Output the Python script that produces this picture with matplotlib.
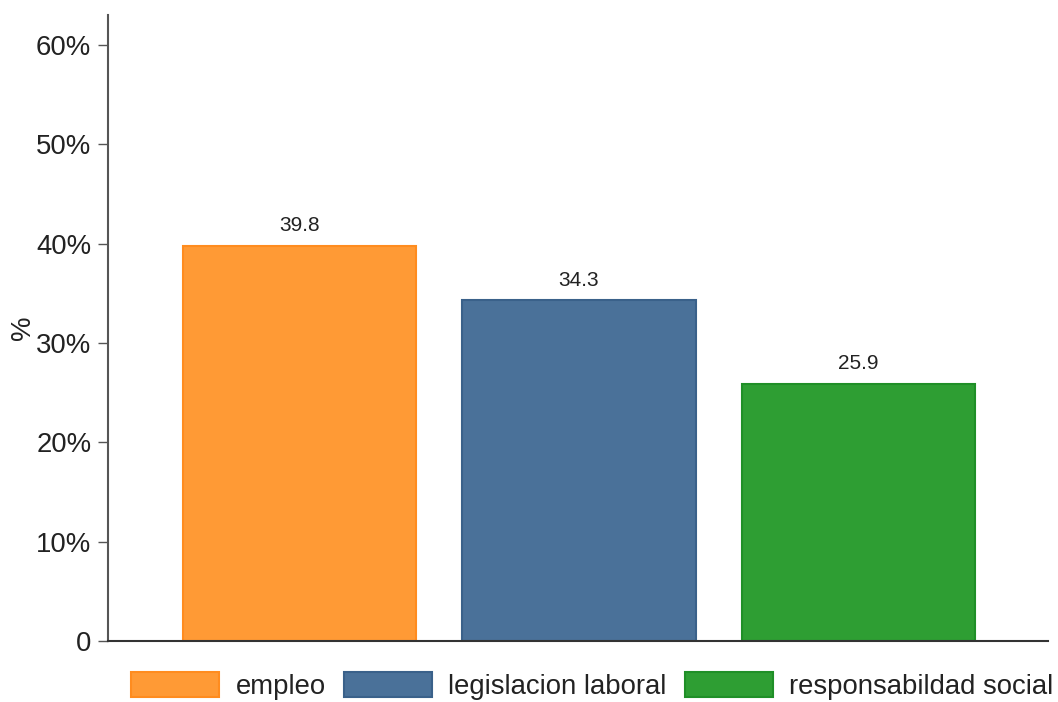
import matplotlib
matplotlib.use("Agg")
import matplotlib.pyplot as plt

categories = ["empleo", "legislacion laboral", "responsabildad social"]
values = [39.8, 34.3, 25.9]
yticks = [0, 10, 20, 30, 40, 50, 60]
ytick_labels = ["0", "10%", "20%", "30%", "40%", "50%", "60%"]

fill_colors = ["#FF9A35", "#4A7199", "#2E9E33"]
edge_colors = ["#FF8C1F", "#3A618A", "#1F8F27"]

plt.rcParams['font.family'] = ['Liberation Sans', 'DejaVu Sans']

fig = plt.figure(figsize=(10.58, 7.02), dpi=100)
ax = fig.add_axes([0.1021, 0.0869, 0.8884, 0.8917])

positions = [1, 2, 3]
bars = []
for p, v, c, ec, lab in zip(positions, values, fill_colors, edge_colors, categories):
    b = ax.bar(p, v, width=0.834, color=c, edgecolor=ec, linewidth=1.5, label=lab)
    bars.append(b)
    ax.annotate(f"{v:.1f}", xy=(p, v), xytext=(0, 14.4), textcoords="offset points",
                ha="center", va="center", fontsize=15, color="#222222")

ax.set_xlim(0.315, 3.678)
ax.set_ylim(0, 63)
ax.set_yticks(yticks)
ax.set_yticklabels(ytick_labels)
ax.set_xticks([])
ax.tick_params(axis="y", labelsize=19.8, length=7, width=1, color="#555555",
               pad=5, labelcolor="#222222")
for s in ["top", "right"]:
    ax.spines[s].set_visible(False)
ax.spines["left"].set_color("#555555")
ax.spines["left"].set_linewidth(1.5)
ax.spines["bottom"].set_color("#333333")
ax.spines["bottom"].set_linewidth(1.5)

ax.set_ylabel("%", fontsize=19.8, color="#222222")
ax.yaxis.set_label_coords(-0.077, 0.5)

fig.legend(handles=[b for b in bars], labels=categories, loc="center",
           bbox_to_anchor=(0.56, 0.0228), ncol=3, frameon=False, fontsize=19.8,
           handlelength=3.2, handleheight=1.0, handletextpad=0.58,
           columnspacing=0.68, borderpad=0, borderaxespad=0, labelcolor="#222222")

fig.savefig("out.png", dpi=100)
